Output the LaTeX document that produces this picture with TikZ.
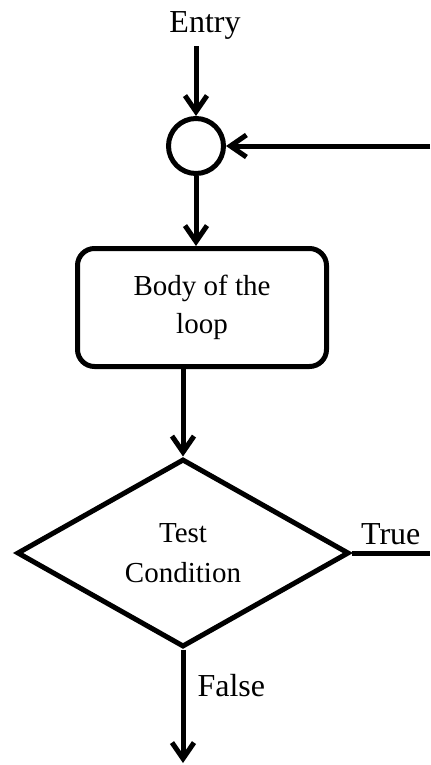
\documentclass[tikz,border=0pt]{standalone}
\usepackage{fontspec}
\setmainfont{Liberation Serif}
\usetikzlibrary{shapes.geometric,arrows.meta,positioning}

\begin{document}
\begin{tikzpicture}[x=0.5pt,y=-0.5pt,line width=2.5pt,
        >={Straight Barb[length=8pt,width=11pt]},
        etiqueta/.style={font=\fontsize{16}{19}\selectfont,inner sep=2pt},
        union/.style={circle,draw,minimum size=27.5pt,inner sep=0pt},
        cuerpo/.style={rectangle,draw,rounded corners=8.5pt,minimum width=124.5pt,
          minimum height=59pt,align=center,font=\fontsize{14.5}{19}\selectfont},
        prueba/.style={diamond,draw,minimum width=166pt,minimum height=94pt,
          inner sep=0pt,align=center,font=\fontsize{14.5}{20}\selectfont}]
        \useasboundingbox (0,0) rectangle (430,765);
        % nodos
        \node[etiqueta,anchor=base] (entrada) at (205,33) {Entry};
        \node[union] (union) at (196,146) {};
        \node[cuerpo] (cuerpo) at (202,307.5) {Body of the\\loop};
        \node[prueba] (prueba) at (183,553) {Test\\Condition};
        \coordinate (retorno) at (430,146);
        \coordinate (verdad) at (430,553);
        \coordinate (salida) at (183,763);
        % flechas
        \draw[->] (entrada.south -| union.north) -- (union);
        \draw[->] (retorno) -- (union);
        \draw[->] (union) -- (union.south |- cuerpo.north);
        \draw[->] (prueba.north |- cuerpo.south) -- (prueba);
        % salidas de la condicion
        \draw (prueba.east) -- node[etiqueta,above,inner sep=3pt] (cierto) {True} (verdad);
        \draw[->] (prueba.south) -- node[etiqueta,right,pos=0.32,inner sep=6pt] (falso) {False} (salida);
\end{tikzpicture}
\end{document}
